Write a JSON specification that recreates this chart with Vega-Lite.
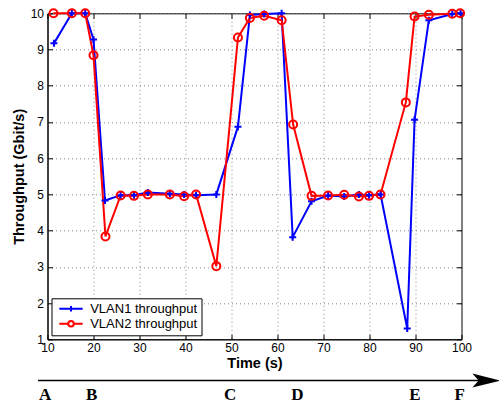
{
  "$schema": "https://vega.github.io/schema/vega-lite/v6.json",
  "width": 414,
  "height": 326,
  "autosize": {"type": "none"},
  "padding": {"left": 47.5, "top": 13.3, "right": 37.5, "bottom": 63.7},
  "background": "white",
  "config": {
    "view": {"stroke": "black", "strokeWidth": 1},
    "font": "Liberation Sans"
  },
  "datasets": {
    "tp": [
      {"t": 11.4, "v": 9.17, "s": "VLAN1 throughput"},
      {"t": 15.3, "v": 10.0, "s": "VLAN1 throughput"},
      {"t": 18.2, "v": 10.0, "s": "VLAN1 throughput"},
      {"t": 20.0, "v": 9.28, "s": "VLAN1 throughput"},
      {"t": 22.5, "v": 4.83, "s": "VLAN1 throughput"},
      {"t": 25.9, "v": 4.98, "s": "VLAN1 throughput"},
      {"t": 28.8, "v": 4.98, "s": "VLAN1 throughput"},
      {"t": 31.8, "v": 5.05, "s": "VLAN1 throughput"},
      {"t": 36.6, "v": 5.02, "s": "VLAN1 throughput"},
      {"t": 39.7, "v": 5.0, "s": "VLAN1 throughput"},
      {"t": 42.3, "v": 4.98, "s": "VLAN1 throughput"},
      {"t": 46.7, "v": 5.0, "s": "VLAN1 throughput"},
      {"t": 51.4, "v": 6.87, "s": "VLAN1 throughput"},
      {"t": 54.0, "v": 9.95, "s": "VLAN1 throughput"},
      {"t": 57.1, "v": 9.98, "s": "VLAN1 throughput"},
      {"t": 60.9, "v": 10.0, "s": "VLAN1 throughput"},
      {"t": 63.3, "v": 3.82, "s": "VLAN1 throughput"},
      {"t": 67.4, "v": 4.81, "s": "VLAN1 throughput"},
      {"t": 71.0, "v": 4.97, "s": "VLAN1 throughput"},
      {"t": 74.5, "v": 4.94, "s": "VLAN1 throughput"},
      {"t": 77.7, "v": 5.0, "s": "VLAN1 throughput"},
      {"t": 79.9, "v": 4.98, "s": "VLAN1 throughput"},
      {"t": 82.4, "v": 5.0, "s": "VLAN1 throughput"},
      {"t": 88.2, "v": 1.3, "s": "VLAN1 throughput"},
      {"t": 89.8, "v": 7.06, "s": "VLAN1 throughput"},
      {"t": 92.9, "v": 9.81, "s": "VLAN1 throughput"},
      {"t": 98.0, "v": 9.98, "s": "VLAN1 throughput"},
      {"t": 99.8, "v": 10.0, "s": "VLAN1 throughput"},
      {"t": 11.3, "v": 10.0, "s": "VLAN2 throughput"},
      {"t": 15.3, "v": 10.0, "s": "VLAN2 throughput"},
      {"t": 18.2, "v": 10.0, "s": "VLAN2 throughput"},
      {"t": 20.0, "v": 8.84, "s": "VLAN2 throughput"},
      {"t": 22.6, "v": 3.84, "s": "VLAN2 throughput"},
      {"t": 25.9, "v": 4.97, "s": "VLAN2 throughput"},
      {"t": 28.8, "v": 4.96, "s": "VLAN2 throughput"},
      {"t": 31.8, "v": 5.0, "s": "VLAN2 throughput"},
      {"t": 36.6, "v": 5.0, "s": "VLAN2 throughput"},
      {"t": 39.7, "v": 4.95, "s": "VLAN2 throughput"},
      {"t": 42.3, "v": 5.0, "s": "VLAN2 throughput"},
      {"t": 46.7, "v": 3.02, "s": "VLAN2 throughput"},
      {"t": 51.4, "v": 9.33, "s": "VLAN2 throughput"},
      {"t": 54.0, "v": 9.87, "s": "VLAN2 throughput"},
      {"t": 57.1, "v": 9.93, "s": "VLAN2 throughput"},
      {"t": 60.9, "v": 9.81, "s": "VLAN2 throughput"},
      {"t": 63.4, "v": 6.93, "s": "VLAN2 throughput"},
      {"t": 67.4, "v": 4.96, "s": "VLAN2 throughput"},
      {"t": 71.0, "v": 4.97, "s": "VLAN2 throughput"},
      {"t": 74.5, "v": 4.99, "s": "VLAN2 throughput"},
      {"t": 77.7, "v": 4.94, "s": "VLAN2 throughput"},
      {"t": 79.9, "v": 4.96, "s": "VLAN2 throughput"},
      {"t": 82.4, "v": 5.0, "s": "VLAN2 throughput"},
      {"t": 87.9, "v": 7.54, "s": "VLAN2 throughput"},
      {"t": 89.8, "v": 9.91, "s": "VLAN2 throughput"},
      {"t": 92.9, "v": 9.96, "s": "VLAN2 throughput"},
      {"t": 98.0, "v": 9.99, "s": "VLAN2 throughput"},
      {"t": 99.7, "v": 10.0, "s": "VLAN2 throughput"}
    ],
    "letters": [
      {"lbl": "A", "t": 9.46, "y": -0.54},
      {"lbl": "B", "t": 19.6, "y": -0.54},
      {"lbl": "C", "t": 49.7, "y": -0.54},
      {"lbl": "D", "t": 64.3, "y": -0.54},
      {"lbl": "E", "t": 89.9, "y": -0.54},
      {"lbl": "F", "t": 99.6, "y": -0.54}
    ],
    "arrow": [
      {"t": 7.93, "t2": 104.0, "y": -0.14, "head": 105.4}
    ]
  },
  "layer": [
    {
      "data": {"name": "tp"},
      "mark": {"type": "line", "strokeWidth": 2},
      "encoding": {
        "x": {
          "field": "t", "type": "quantitative",
          "scale": {"domain": [10, 100], "nice": false, "zero": false},
          "axis": {
            "values": [10, 20, 30, 40, 50, 60, 70, 80, 90, 100],
            "title": "Time (s)", "titleFontSize": 14.5, "titleFontWeight": "bold", "titleColor": "black",
            "labelFontSize": 12, "labelColor": "black", "labelPadding": 8, "titlePadding": 3,
            "tickSize": -5, "tickColor": "black", "domainColor": "black",
            "grid": true, "gridDash": [1, 3], "gridColor": "#888888", "gridWidth": 1,
            "labelFlush": false
          }
        },
        "y": {
          "field": "v", "type": "quantitative",
          "scale": {"domain": [1, 10], "nice": false, "zero": false},
          "axis": {
            "values": [1, 2, 3, 4, 5, 6, 7, 8, 9, 10],
            "title": "Throughput (Gbit/s)", "titleFontSize": 14.5, "titleFontWeight": "bold", "titleColor": "black",
            "labelFontSize": 12, "labelColor": "black", "labelPadding": 9, "titlePadding": 4,
            "tickSize": -5, "tickColor": "black", "domainColor": "black",
            "grid": true, "gridDash": [1, 3], "gridColor": "#888888", "gridWidth": 1,
            "labelFlush": false
          }
        },
        "color": {
          "field": "s", "type": "nominal",
          "scale": {"domain": ["VLAN1 throughput", "VLAN2 throughput"], "range": ["#0000ff", "#ff0000"]},
          "legend": {
            "title": null, "orient": "bottom-left", "offset": 4,
            "strokeColor": "black", "fillColor": "white", "padding": 4,
            "labelFontSize": 13, "labelColor": "black", "labelOffset": 21.7,
            "symbolSize": 100, "symbolStrokeWidth": 2, "rowPadding": 0,
            "encode": {"symbols": {"update": {
              "shape": {"signal": "datum.value === 'VLAN1 throughput' ? 'M-0.54,0H4.14M1.8,-0.55V0.55' : 'M-0.54,0H1.25M2.35,0H4.14M1.25,0A0.55,0.55 0 1,1 2.35,0A0.55,0.55 0 1,1 1.25,0'"},
              "fill": {"value": "transparent"},
              "strokeWidth": {"value": 2}
            }}}
          }
        }
      }
    },
    {
      "data": {"name": "tp"},
      "transform": [{"filter": "datum.s === 'VLAN1 throughput'"}],
      "mark": {"type": "point", "filled": false, "strokeWidth": 2, "size": 49, "opacity": 1, "color": "#0000ff", "shape": "M-1,0H1M0,-1V1"},
      "encoding": {
        "x": {"field": "t", "type": "quantitative", "axis": null},
        "y": {"field": "v", "type": "quantitative", "axis": null}
      }
    },
    {
      "data": {"name": "tp"},
      "transform": [{"filter": "datum.s === 'VLAN2 throughput'"}],
      "mark": {"type": "point", "filled": false, "strokeWidth": 2, "size": 64, "opacity": 1, "color": "#ff0000", "shape": "circle"},
      "encoding": {
        "x": {"field": "t", "type": "quantitative", "axis": null},
        "y": {"field": "v", "type": "quantitative", "axis": null}
      }
    },
    {
      "data": {"name": "tp"},
      "mark": {"type": "point", "opacity": 0},
      "encoding": {
        "x": {"field": "t", "type": "quantitative",
          "axis": {"orient": "top", "labels": false, "title": null, "grid": false, "domain": false,
            "values": [10, 20, 30, 40, 50, 60, 70, 80, 90, 100], "tickSize": -5, "tickColor": "black"}},
        "y": {"field": "v", "type": "quantitative",
          "axis": {"orient": "right", "labels": false, "title": null, "grid": false, "domain": false,
            "values": [1, 2, 3, 4, 5, 6, 7, 8, 9, 10], "tickSize": -5, "tickColor": "black"}}
      }
    },
    {
      "data": {"name": "arrow"},
      "mark": {"type": "rule", "color": "black", "strokeWidth": 1.5},
      "encoding": {
        "x": {"field": "t", "type": "quantitative", "axis": null},
        "x2": {"field": "t2"},
        "y": {"field": "y", "type": "quantitative", "axis": null}
      }
    },
    {
      "data": {"name": "arrow"},
      "mark": {"type": "point", "filled": true, "color": "black", "opacity": 1, "size": 784,
        "shape": "M-1,-0.5L1,0L-1,0.5L-0.55,0Z"},
      "encoding": {
        "x": {"field": "head", "type": "quantitative", "axis": null},
        "y": {"field": "y", "type": "quantitative", "axis": null}
      }
    },
    {
      "data": {"name": "letters"},
      "mark": {"type": "text", "font": "Liberation Serif", "fontWeight": "bold", "fontSize": 17, "color": "black", "baseline": "middle", "align": "center"},
      "encoding": {
        "x": {"field": "t", "type": "quantitative", "axis": null},
        "y": {"field": "y", "type": "quantitative", "axis": null},
        "text": {"field": "lbl"}
      }
    }
  ],
  "resolve": {"axis": {"x": "independent", "y": "independent"}}
}
